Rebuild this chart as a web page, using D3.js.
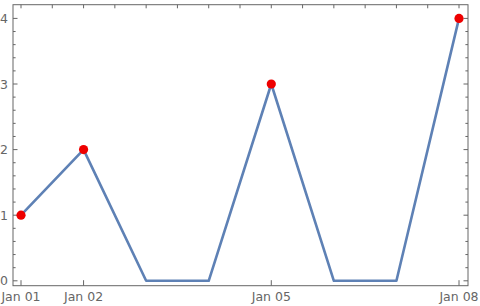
<!DOCTYPE html>
<html><head><meta charset="utf-8">
<script src="https://cdn.jsdelivr.net/npm/d3@7"></script>
<style>body{margin:0;background:#fff}svg{display:block}text{font-family:"DejaVu Sans",sans-serif;font-size:12.5px}</style>
</head><body>
<svg id="c" width="480" height="306"></svg>
<script>
const dates = ["2024-01-01","2024-01-02","2024-01-03","2024-01-04","2024-01-05","2024-01-06","2024-01-07","2024-01-08"];
const values = [1, 2, 0, 0, 3, 0, 0, 4];
const xTickDates = ["2024-01-01","2024-01-02","2024-01-05","2024-01-08"];
const xTickLabels = ["Jan 01","Jan 02","Jan 05","Jan 08"];
const yTicks = [0, 1, 2, 3, 4];

const parse = d3.utcParse("%Y-%m-%d");
const data = dates.map((d, i) => ({date: parse(d), value: values[i]}));

const svg = d3.select("#c");
const frame = {left: 13, right: 468, top: 4.7, bottom: 285.7};

const x = d3.scaleUtc().domain([parse(dates[0]), parse(dates[dates.length-1])]).range([21, 459]);
const y = d3.scaleLinear().domain([0, 4]).range([280.8, 18.4]);

const gray = "#666";
const g = svg.append("g");

// frame
g.append("rect").attr("x", frame.left).attr("y", frame.top)
  .attr("width", frame.right - frame.left).attr("height", frame.bottom - frame.top)
  .attr("fill", "none").attr("stroke", gray).attr("stroke-width", 1);

// y ticks
const minorY = d3.range(0, 4.01, 0.2).map(v => +v.toFixed(1)).filter(v => !yTicks.includes(v));
function yTickLines(xPos, dir) {
  g.selectAll(null).data(yTicks).enter().append("line")
    .attr("x1", xPos).attr("x2", xPos + dir*4.5)
    .attr("y1", d => y(d)).attr("y2", d => y(d)).attr("stroke", gray);
  g.selectAll(null).data(minorY).enter().append("line")
    .attr("x1", xPos).attr("x2", xPos + dir*2.6)
    .attr("y1", d => y(d)).attr("y2", d => y(d)).attr("stroke", gray);
}
yTickLines(frame.left, 1);
yTickLines(frame.right, -1);

g.selectAll(null).data(yTicks).enter().append("text")
  .attr("x", 8).attr("y", d => y(d)).attr("dy", "0.36em")
  .attr("text-anchor", "end").attr("fill", "#666").text(d => d);

// bottom ticks
const bt = xTickDates.map(parse);
g.selectAll(null).data(bt).enter().append("line")
  .attr("x1", d => x(d)).attr("x2", d => x(d))
  .attr("y1", frame.bottom).attr("y2", frame.bottom - 5.5).attr("stroke", gray);
g.selectAll(null).data(bt).enter().append("text")
  .attr("x", d => x(d)).attr("y", 301)
  .attr("text-anchor", "middle").attr("fill", "#666").text((d, i) => xTickLabels[i]);

// top ticks every 12h
const topTicks = d3.utcHour.every(12).range(parse(dates[0]), d3.utcHour.offset(parse(dates[dates.length-1]), 1));
g.selectAll(null).data(topTicks).enter().append("line")
  .attr("x1", d => x(d)).attr("x2", d => x(d))
  .attr("y1", frame.top).attr("y2", frame.top + 3.6).attr("stroke", gray);

// line
const line = d3.line().x(d => x(d.date)).y(d => y(d.value));
g.append("path").datum(data).attr("d", line)
  .attr("fill", "none").attr("stroke", "#5E81B5").attr("stroke-width", 2.6)
  .attr("stroke-linejoin", "round");

// points
g.selectAll(null).data(data.filter(d => d.value !== 0)).enter().append("circle")
  .attr("cx", d => x(d.date)).attr("cy", d => y(d.value)).attr("r", 4.6)
  .attr("fill", "#EE0000");
</script>
</body></html>
